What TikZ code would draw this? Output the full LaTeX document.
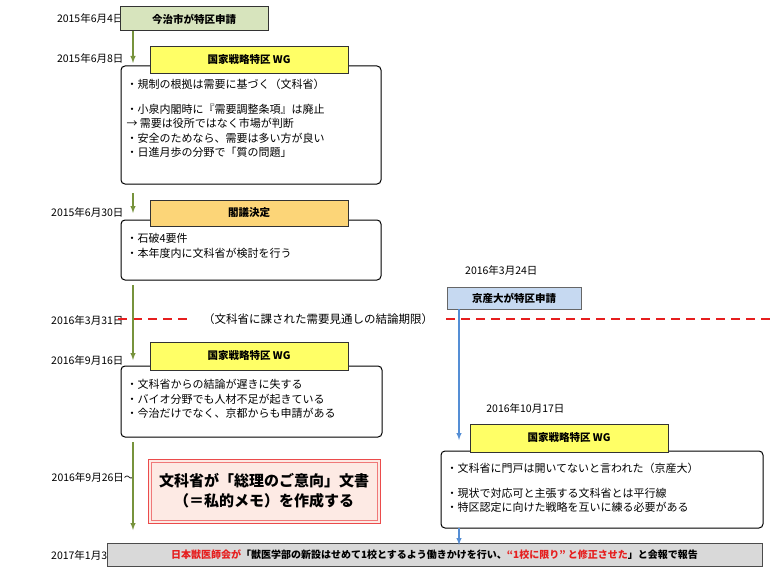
\documentclass[tikz,border=0pt]{standalone}
\usepackage{fontspec}
\setmainfont{Noto Sans CJK JP}
\usetikzlibrary{arrows, positioning}
\definecolor{hdgreen}{RGB}{215,228,189}
\definecolor{argreen}{RGB}{119,147,60}
\definecolor{hdyellow}{RGB}{255,255,102}
\definecolor{hdorange}{RGB}{252,213,120}
\definecolor{hdblue}{RGB}{198,217,241}
\definecolor{arblue}{RGB}{85,142,213}
\definecolor{memopink}{RGB}{253,234,228}
\definecolor{hdred}{RGB}{230,30,30}
\tikzset{
  datum/.style={anchor=east, font=\fontsize{10.5}{12}\selectfont},
  khung/.style={draw=black, rounded corners=4pt, line width=1pt, fill=white},
  tieude/.style={draw=black!80, line width=1pt, font=\fontsize{10.5}{12}\selectfont\bfseries},
  noidung/.style={anchor=north west, align=left, font=\fontsize{11}{14.5}\selectfont},
}
\newcommand{\muiten}{\draw[line width=1.4pt, -latex]}

\begin{document}
\begin{tikzpicture}[x=1pt, y=-1pt]
\useasboundingbox (0,0) rectangle (770,575);
% Ngày tháng
\node[datum] (d1) at (127,18) {2015年6月4日};
\node[datum] (d2) at (127,58) {2015年6月8日};
\node[datum] (d3) at (127,212) {2015年6月30日};
\node[datum] (d4) at (127,320) {2016年3月31日};
\node[datum] (d5) at (127,360) {2016年9月16日};
\node[datum] (d6) at (138,477) {2016年9月26日～};
\node[datum] (d7) at (127,555) {2017年1月30日};
\node[datum] (d8) at (541,270) {2016年3月24日};
\node[datum] (d9) at (568,408) {2016年10月17日};
% Đường thời hạn
\draw[hdred, dash pattern=on 9pt off 6pt, line width=1.5pt] (118,319) -- (190,319);
\draw[hdred, dash pattern=on 9pt off 6pt, line width=1.5pt] (446,319) -- (770,319);
\node[font=\fontsize{11.5}{12}\selectfont] (han) at (318,319) {（文科省に課された需要見通しの結論期限）};
% Cột trái
\node[tieude, fill=hdgreen, minimum width=148pt, minimum height=24pt] (imabari) at (194,19) {今治市が特区申請};
\draw[khung] (121,66) rectangle (381,184);
\node[tieude, fill=hdyellow, minimum width=198pt, minimum height=27pt] (wg1) at (249,60) {国家戦略特区 WG};
\node[noidung] (t1) at (123,76) {・規制の根拠は需要に基づく（文科省）\\[10pt]・小泉内閣時に『需要調整条項』は廃止\\→ 需要は役所ではなく市場が判断\\・安全のためなら、需要は多い方が良い\\・日進月歩の分野で「質の問題」};
\draw[khung] (121,220) rectangle (381,280);
\node[tieude, fill=hdorange, minimum width=198pt, minimum height=26pt] (kakugi) at (249,213) {閣議決定};
\node[noidung] (t2) at (123,230) {・石破4要件\\・本年度内に文科省が検討を行う};
\draw[khung] (121,366) rectangle (382,437);
\node[tieude, fill=hdyellow, minimum width=198pt, minimum height=28pt] (wg2) at (249,356) {国家戦略特区 WG};
\node[noidung] (t3) at (123,376) {・文科省からの結論が遅きに失する\\・バイオ分野でも人材不足が起きている\\・今治だけでなく、京都からも申請がある};
\node[draw=hdred!80, line width=1pt, fill=memopink, minimum width=232pt, minimum height=64pt] (memokhung) at (264,491) {};
\node[draw=hdred!60, line width=0.6pt, minimum width=226pt, minimum height=58pt, align=center, font=\fontsize{15}{20}\selectfont\bfseries] (memo) at (264,491) {文科省が「総理のご意向」文書\\（＝私的メモ）を作成する};
% Cột phải
\node[draw=black!60, line width=1pt, fill=hdblue, minimum width=134pt, minimum height=22pt, font=\fontsize{10.5}{12}\selectfont\bfseries] (kyosan) at (514,298) {京産大が特区申請};
\draw[khung] (441,451) rectangle (763,528);
\node[tieude, fill=hdyellow, minimum width=198pt, minimum height=28pt] (wg3) at (569,438) {国家戦略特区 WG};
\node[noidung] (t4) at (443,460) {・文科省に門戸は開いてないと言われた（京産大）\\[10pt]・現状で対応可と主張する文科省とは平行線\\・特区認定に向けた戦略を互いに練る必要がある};
% Hàng cuối
\node[draw=black!70, line width=1pt, fill=black!15, minimum width=655pt, minimum height=23pt, font=\fontsize{10}{12}\selectfont\bfseries] (kaiho) at (434.5,554.5) {\textcolor{hdred}{日本獣医師会が}「獣医学部の新設はせめて1校とするよう働きかけを行い、\textcolor{hdred}{“1校に限り” と修正させた}」と会報で報告};
% Mũi tên
\coordinate (a1) at (133,31);  \coordinate (b1) at (133,63);
\coordinate (a2) at (133,193); \coordinate (b2) at (133,213);
\coordinate (a3) at (133,285); \coordinate (b3) at (133,360);
\coordinate (a4) at (133,442); \coordinate (b4) at (133,530);
\coordinate (a5) at (459,309); \coordinate (b5) at (459,440);
\coordinate (a6) at (459,528); \coordinate (b6) at (459,545);
\muiten[argreen] (a1) -- (b1);
\muiten[argreen] (a2) -- (b2);
\muiten[argreen] (a3) -- (b3);
\muiten[argreen] (a4) -- (b4);
\muiten[arblue] (a5) -- (b5);
\muiten[arblue] (a6) -- (b6);
\end{tikzpicture}
\end{document}
